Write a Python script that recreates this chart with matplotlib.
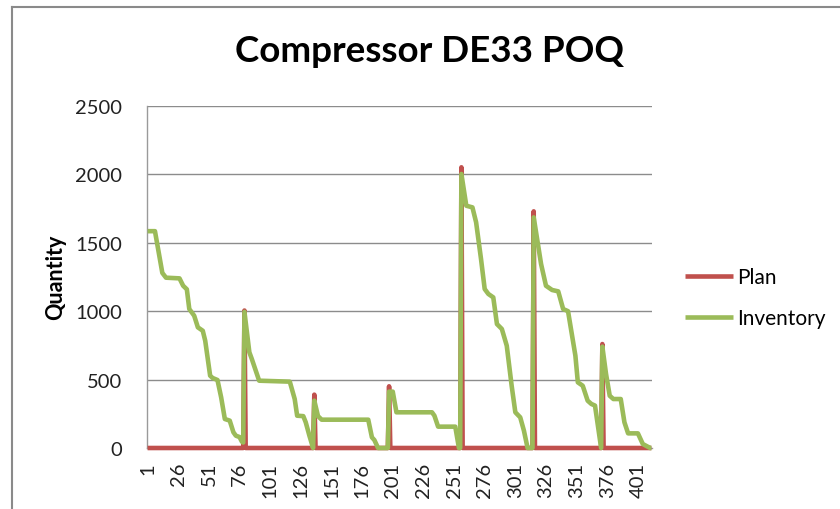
import numpy as np
import matplotlib
matplotlib.use("Agg")
import matplotlib.pyplot as plt
from matplotlib.lines import Line2D

# ---- data ----
n_days = 412
plan_days = [80, 137, 198, 257, 316, 372]
plan_qty = [1005, 390, 451, 2052, 1730, 760]

inv_days = [1, 7, 13, 16, 27, 30, 33, 35, 39, 42, 46, 48, 52, 54, 58, 61, 64, 68, 71, 73, 76, 78, 79,
            80, 84, 86, 92, 117, 121, 123, 128, 130, 133, 136,
            137, 140, 143, 181, 184, 186, 189, 197,
            198, 201, 204, 233, 235, 238, 252, 255, 256,
            257, 261, 266, 269, 273, 276, 279, 283, 286, 290, 294, 298, 301, 305, 308, 311, 315,
            316, 322, 326, 331, 336, 340, 344, 350, 352, 356, 360, 363, 366, 371,
            372, 375, 378, 381, 387, 390, 393, 401, 405, 411, 412]
inv_qty = [1585, 1585, 1280, 1245, 1240, 1186, 1160, 1016, 967, 882, 857, 784, 529, 512, 497, 370, 212, 200, 115, 90, 80, 45, 40,
           995, 700, 651, 492, 485, 358, 236, 233, 188, 90, 0,
           346, 233, 207, 207, 78, 58, 0, 0,
           412, 412, 261, 261, 236, 156, 156, 0, 0,
           2003, 1771, 1759, 1650, 1382, 1162, 1126, 1101, 906, 870, 748, 455, 261, 224, 127, 0, 0,
           1686, 1345, 1186, 1155, 1145, 1016, 1000, 675, 480, 455, 346, 322, 310, 0,
           741, 541, 382, 358, 358, 188, 107, 107, 29, 0, 0]

x_ticks = list(range(1, 402, 25))
y_ticks = [0, 500, 1000, 1500, 2000, 2500]

title = "Compressor DE33 POQ"
ylabel = "Quantity"
series_names = ["Plan", "Inventory"]

# ---- build ----
days = np.arange(1, n_days + 1)
plan = np.zeros(n_days)
for d, q in zip(plan_days, plan_qty):
    plan[d - 1] = q

plt.rcParams['font.family'] = ['Lato', 'DejaVu Sans']
fig = plt.figure(figsize=(8.4, 5.1), dpi=100)
W, H = 840, 510
ax = fig.add_axes([147 / W, 1 - 449 / H, 505 / W, 342 / H])

red = '#C0504D'
green = '#9BBB59'
ax.plot(days, plan, color=red, lw=3.3, label=series_names[0], solid_joinstyle='round',
        solid_capstyle='butt', zorder=3, clip_on=False)
ax.plot(inv_days, inv_qty, color=green, lw=3.3, label=series_names[1], solid_joinstyle='round',
        solid_capstyle='butt', zorder=4, clip_on=False)

ax.set_xlim(0.5, n_days + 0.5)
ax.set_ylim(0, 2500)
ax.set_yticks(y_ticks)
ax.set_xticks(x_ticks)
ax.set_xticklabels([str(t) for t in x_ticks], rotation=90)
ax.tick_params(axis='y', length=0, pad=18, labelsize=14.5, labelcolor='#222222')
ax.tick_params(axis='x', length=0, pad=10, labelsize=14.5, labelcolor='#222222')
ax.grid(axis='y', color='#8c8c8c', lw=1.0)
ax.set_axisbelow(True)
for s in ['top', 'right']:
    ax.spines[s].set_visible(False)
for s in ['left', 'bottom']:
    ax.spines[s].set_color('#9a9a9a')
    ax.spines[s].set_linewidth(1.0)

fig.text(430 / W, 1 - 52 / H, title, ha='center', va='center', fontsize=26.5, fontweight='bold', color='black')
fig.text(56 / W, 1 - 277 / H, ylabel, ha='center', va='center', rotation=90, fontsize=15.5, fontweight='bold', color='black')

ax.legend(loc='center left', bbox_to_anchor=(685 / W, 1 - 298.5 / H), bbox_transform=fig.transFigure,
          frameon=False, fontsize=15, handlelength=2.3, handletextpad=0.2, labelspacing=1.0,
          borderpad=0, borderaxespad=0)

# chart-area border (left and top edges visible)
fig.add_artist(Line2D([12 / W, 12 / W], [0, 1 - 8 / H], transform=fig.transFigure, color='#8a8a8a', lw=1.5))
fig.add_artist(Line2D([12 / W, 1], [1 - 8 / H, 1 - 8 / H], transform=fig.transFigure, color='#8a8a8a', lw=1.5))

fig.savefig('out.png', dpi=100)
